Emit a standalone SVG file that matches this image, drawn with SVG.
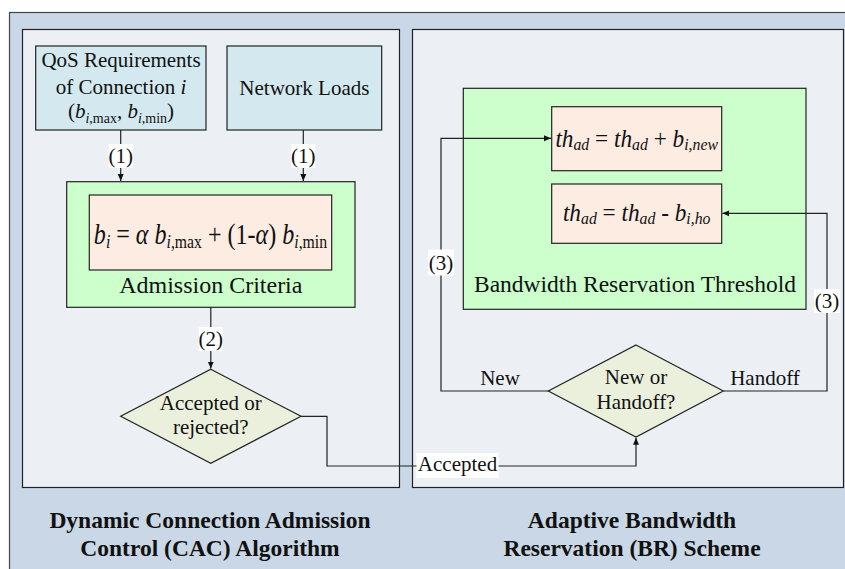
<svg xmlns="http://www.w3.org/2000/svg" width="845" height="569" viewBox="0 0 845 569" font-family="'Liberation Serif', 'Times New Roman', serif">
<defs>
<style>
text{font-family:"Liberation Serif","Times New Roman",serif;fill:#111;}
.t{font-size:21px;}
.c{text-anchor:middle;}
.it{font-style:italic;}
.cap{font-size:23.5px;font-weight:bold;text-anchor:middle;}
.box{stroke:#222;stroke-width:1.2;}
.blue{fill:#D3E9EF;}
.green{fill:#CCFFCC;}
.peach{fill:#FCECE1;}
.dia{fill:#EBF0DD;}
.panel{fill:#ECF0F5;stroke:#222;stroke-width:1.2;}
.conn{fill:none;stroke:#222;stroke-width:1.2;}
.lbl{fill:#fff;}
</style>
<marker id="arr" markerWidth="8" markerHeight="8" refX="7" refY="4" orient="auto" markerUnits="userSpaceOnUse">
<path d="M0,1 L7,4 L0,7 Z" fill="#111"/>
</marker>
</defs>

<rect x="9.5" y="12.5" width="845" height="565" fill="#C9D7E6" stroke="#444" stroke-width="1.2"/>
<rect class="panel" x="22.5" y="29.5" width="377" height="458"/>
<rect class="panel" x="412.5" y="29.5" width="431" height="458"/>

<g id="qos">
<rect class="box blue" x="35.7" y="46" width="170.3" height="84"/>
<text class="t c" x="121" y="67">QoS Requirements</text>
<text class="t c" x="121" y="93.5">of  Connection <tspan class="it">i</tspan></text>
<text class="t c" x="121" y="118">(<tspan class="it">b</tspan><tspan font-size="14" dy="5"><tspan class="it">i</tspan>,max</tspan><tspan dy="-5">, </tspan><tspan class="it">b</tspan><tspan font-size="14" dy="5"><tspan class="it">i</tspan>,min</tspan><tspan dy="-5">)</tspan></text>
</g>

<g id="netload">
<rect class="box blue" x="227" y="46" width="154.7" height="84"/>
<text class="t c" x="304.4" y="95">Network Loads</text>
</g>

<g id="admission">
<rect class="box green" x="66.7" y="181.7" width="288.3" height="125.6"/>
<rect class="box peach" x="89.3" y="195" width="242.4" height="75"/>
<text class="c" font-size="29" transform="translate(210.5,243.5) scale(0.83,1)"><tspan class="it">b</tspan><tspan class="it" font-size="19" dy="4">i</tspan><tspan dy="-4"> = </tspan><tspan class="it">α</tspan> <tspan class="it">b</tspan><tspan font-size="19" dy="4"><tspan class="it">i</tspan>,max</tspan><tspan dy="-4"> + (1-</tspan><tspan class="it">α</tspan>) <tspan class="it">b</tspan><tspan font-size="19" dy="4"><tspan class="it">i</tspan>,min</tspan></text>
<text class="c" font-size="24" x="210.8" y="293">Admission Criteria</text>
</g>

<g id="accept-dec">
<polygon class="box dia" points="210.8,369.3 301,416.3 210.8,463.3 120.7,416.3"/>
<text class="t c" x="210.8" y="410">Accepted or</text>
<text class="t c" x="210.8" y="433.5">rejected?</text>
</g>

<g id="threshold">
<rect class="box green" x="463.3" y="88.3" width="342.7" height="221"/>
<rect class="box peach" x="551.7" y="106.7" width="170" height="64"/>
<rect class="box peach" x="551.7" y="184" width="170" height="59.3"/>
<text class="c" font-size="25" transform="translate(636.7,146.7) scale(0.93,1)"><tspan class="it">th</tspan><tspan class="it" font-size="17" dy="3">ad</tspan><tspan dy="-3"> = </tspan><tspan class="it">th</tspan><tspan class="it" font-size="17" dy="3">ad</tspan><tspan dy="-3"> + </tspan><tspan class="it">b</tspan><tspan class="it" font-size="17" dy="3">i,new</tspan></text>
<text class="c" font-size="25" transform="translate(636.7,220.7) scale(0.93,1)"><tspan class="it">th</tspan><tspan class="it" font-size="17" dy="3">ad</tspan><tspan dy="-3"> = </tspan><tspan class="it">th</tspan><tspan class="it" font-size="17" dy="3">ad</tspan><tspan dy="-3"> - </tspan><tspan class="it">b</tspan><tspan class="it" font-size="17" dy="3">i,ho</tspan></text>
<text class="c" font-size="23.5" x="635" y="292">Bandwidth Reservation Threshold</text>
</g>

<g id="type-dec">
<polygon class="box dia" points="636,345 723.3,391 636,437 548.3,391"/>
<text class="t c" x="636" y="384.3">New or</text>
<text class="t c" x="636" y="409.3">Handoff?</text>
</g>

<g id="connectors">
<path class="conn" d="M120.7,130 V181" marker-end="url(#arr)"/>
<path class="conn" d="M303.3,130 V181" marker-end="url(#arr)"/>
<path class="conn" d="M210.8,307.3 V368.6" marker-end="url(#arr)"/>
<path class="conn" d="M301,416.3 H327 V466 H636 V437.7" marker-end="url(#arr)"/>
<path class="conn" d="M548.3,391 H441 V138.3 H551" marker-end="url(#arr)"/>
<path class="conn" d="M723.3,391 H827 V213.3 H722.4" marker-end="url(#arr)"/>
<rect class="lbl" x="108.7" y="144" width="24" height="24"/>
<text class="t c" x="120.7" y="162.5">(1)</text>
<rect class="lbl" x="291.3" y="144" width="24" height="24"/>
<text class="t c" x="303.3" y="162.5">(1)</text>
<rect class="lbl" x="198.8" y="327" width="24" height="24"/>
<text class="t c" x="210.8" y="345.5">(2)</text>
<rect class="lbl" x="416.5" y="453" width="82" height="25"/>
<text class="t c" x="457.5" y="471">Accepted</text>
<rect class="lbl" x="428" y="249.5" width="26" height="26"/>
<text class="t c" x="441" y="269.5">(3)</text>
<rect class="lbl" x="814" y="289" width="26" height="24"/>
<text class="t c" x="827" y="308">(3)</text>
<text class="t c" x="500" y="385">New</text>
<text class="t c" x="765" y="385">Handoff</text>
</g>

<text class="cap" x="210" y="528">Dynamic Connection Admission</text>
<text class="cap" x="210" y="556">Control (CAC) Algorithm</text>
<text class="cap" x="632" y="528">Adaptive Bandwidth</text>
<text class="cap" x="632" y="556">Reservation (BR) Scheme</text>
</svg>
